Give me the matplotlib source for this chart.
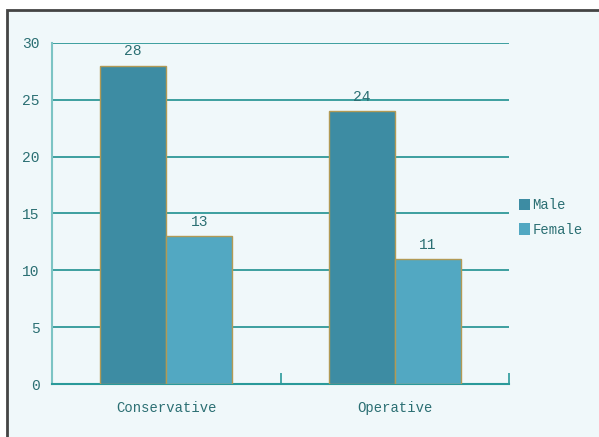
import matplotlib
matplotlib.use("Agg")
import matplotlib.pyplot as plt
from matplotlib.patches import Rectangle
import numpy as np

categories = ["Conservative", "Operative"]
series_names = ["Male", "Female"]
male = [28, 24]
female = [13, 11]
yticks = [0, 5, 10, 15, 20, 25, 30]

W, H = 599, 437
fig = plt.figure(figsize=(W / 100, H / 100), dpi=100)
fig.patch.set_facecolor("white")

# outer frame
frame = Rectangle((6.5 / W, -0.05), 1.2, 1 - 9.5 / H + 0.05, transform=fig.transFigure,
                  facecolor="#f0f8fa", edgecolor="#444444", linewidth=2, zorder=-5)
fig.patches.append(frame)

ax = fig.add_axes([52 / W, 1 - 384 / H, (509 - 52) / W, (384 - 43) / H])
ax.set_facecolor("none")
ax.set_zorder(1)

font = "Liberation Mono"
txtcol = "#2b6f73"
c_male = "#3d8ca3"
c_female = "#52a8c2"
edge = "#b29a55"

x = np.arange(len(categories)) + 0.5
bw = 66 / 228
ax.bar(x - bw / 2, male, width=bw, color=c_male, edgecolor=edge, linewidth=1, zorder=3, label=series_names[0])
ax.bar(x + bw / 2, female, width=bw, color=c_female, edgecolor=edge, linewidth=1, zorder=3, label=series_names[1])

for xi, v in zip(x - bw / 2, male):
    ax.text(xi, v + 0.65, str(v), ha="center", va="bottom", fontsize=10.5, family=font, color=txtcol)
for xi, v in zip(x + bw / 2, female):
    ax.text(xi, v + 0.65, str(v), ha="center", va="bottom", fontsize=10.5, family=font, color=txtcol)

ax.set_xlim(0, len(categories))
ax.set_ylim(0, 30)
ax.set_yticks(yticks)
ax.set_yticklabels([str(t) for t in yticks], family=font, fontsize=10.5, color=txtcol)
ax.set_xticks(x)
ax.set_xticklabels(categories, family=font, fontsize=10, color=txtcol)
ax.tick_params(axis="x", length=0, pad=12)
ax.tick_params(axis="y", length=0, pad=9)
ax.set_xticks([0, 1, 2], minor=True)
ax.tick_params(axis="x", which="minor", direction="in", length=8, color="#2a9a9a", width=1.2)

for t in yticks[1:]:
    ax.axhline(t, color="#1f9090", linewidth=1.2, zorder=1)

for s in ["top", "right"]:
    ax.spines[s].set_visible(False)
ax.spines["left"].set_color("#7cc4c4")
ax.spines["left"].set_linewidth(1.5)
ax.spines["bottom"].set_color("#2a9a9a")
ax.spines["bottom"].set_linewidth(1.5)

leg = ax.legend(loc="center left", bbox_to_anchor=(1.01, 0.488), frameon=False,
                prop={"family": font, "size": 10}, handlelength=0.75, handleheight=0.85,
                handletextpad=0.2, labelspacing=0.75, borderaxespad=0)
for t in leg.get_texts():
    t.set_color(txtcol)
for h in leg.legend_handles:
    h.set_edgecolor("none")

fig.savefig("out.png", dpi=100, facecolor=fig.get_facecolor())
